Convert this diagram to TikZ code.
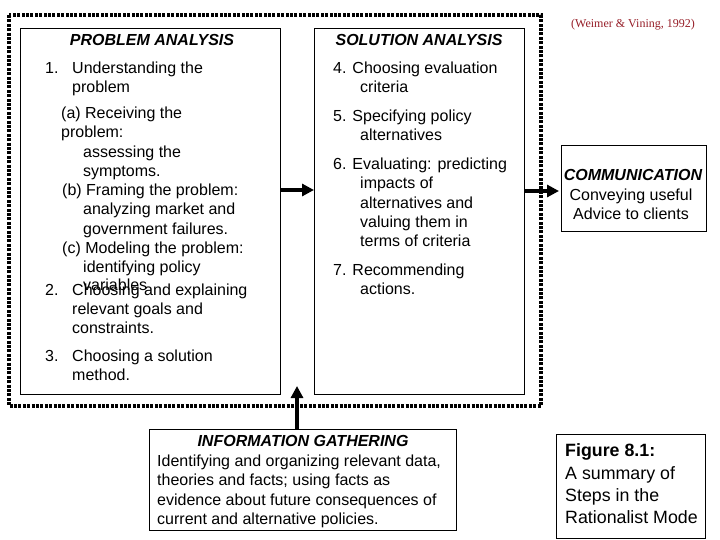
\documentclass[tikz,border=0pt]{standalone}
\usepackage{fontspec}
\setmainfont{Liberation Sans}
\newfontfamily\timesfont{Liberation Serif}
\usetikzlibrary{arrows.meta}
\definecolor{citered}{RGB}{150,30,40}
\begin{document}
\begin{tikzpicture}[x=1pt,y=-1pt,
  box/.style={draw, line width=1pt, inner sep=0, anchor=north west},
  txt/.style={inner sep=0, anchor=west, text height=11pt, text depth=0pt, font=\fontsize{16}{19}\selectfont},
  head/.style={inner sep=0, text height=11pt, text depth=0pt, font=\fontsize{16}{19}\selectfont\bfseries\itshape},
  figtxt/.style={inner sep=0, anchor=west, text height=12.5pt, text depth=0pt, font=\fontsize{17.8}{22}\selectfont},
  frame/.style={line width=3.8pt, dash pattern=on 3pt off 1.4pt},
  bigarrow/.style={line width=4pt, -{Triangle[length=12pt,width=12pt]}}]
\useasboundingbox (0,0) rectangle (720,540);
% boxes
\node[box, minimum width=260pt, minimum height=366pt] (prob) at (20,28) {};
\node[box, minimum width=210pt, minimum height=366pt] (sol) at (314,28) {};
\node[box, minimum width=145pt, minimum height=86pt] (comm) at (561,145) {};
\node[box, minimum width=307pt, minimum height=101pt] (info) at (149,429) {};
\node[box, minimum width=149pt, minimum height=104pt] (fig) at (556,434) {};
% dotted frame
\draw[frame] (9,15) rectangle (541,406);
% arrows
\coordinate (uptip) at (297,386);
\draw[bigarrow] (prob.east |- 0,190) -- (sol.west |- 0,190);
\draw[bigarrow, shorten >=2pt] (sol.east |- 0,191) -- (comm.west |- 0,191);
\draw[bigarrow] (info.north -| uptip) -- (uptip);
% citation
\node[inner sep=0, font=\timesfont\fontsize{12}{14}\selectfont, text=citered] (cite) at (633,25) {(Weimer \& Vining, 1992)};
% problem analysis
\node[head] (pa) at (152,40) {PROBLEM ANALYSIS};
\node[txt] (n1) at (45,68) {1.};
\node[txt] (t1a) at (72,68) {Understanding the};
\node[txt] (t1b) at (72,87) {problem};
\node[txt] (ta1) at (61,113) {(a) Receiving the};
\node[txt] (ta2) at (61,132) {problem:};
\node[txt] (ta3) at (83,152) {assessing the};
\node[txt] (ta4) at (83,171) {symptoms.};
\node[txt] (tb1) at (62,190) {(b) Framing the problem:};
\node[txt] (tb2) at (83,209) {analyzing market and};
\node[txt] (tb3) at (83,229) {government failures.};
\node[txt] (tc1) at (62,248) {(c) Modeling the problem:};
\node[txt] (tc2) at (83,267) {identifying policy};
\node[txt] (tc3) at (83,285) {variables};
\node[txt] (n2) at (45,290) {2.};
\node[txt] (t2a) at (72,290) {Choosing and explaining};
\node[txt] (t2b) at (72,309) {relevant goals and};
\node[txt] (t2c) at (72,328) {constraints.};
\node[txt] (n3) at (45,356) {3.};
\node[txt] (t3a) at (72,356) {Choosing a solution};
\node[txt] (t3b) at (72,375) {method.};
% solution analysis
\node[head] (sa) at (419,40) {SOLUTION ANALYSIS};
\node[txt] (t4a) at (333,68) {4. Choosing evaluation};
\node[txt] (t4b) at (360,87) {criteria};
\node[txt] (t5a) at (333,116) {5. Specifying policy};
\node[txt] (t5b) at (360,135) {alternatives};
\node[txt] (t6a) at (333,164) {6. Evaluating: predicting};
\node[txt] (t6b) at (360,183) {impacts of};
\node[txt] (t6c) at (360,203) {alternatives and};
\node[txt] (t6d) at (360,222) {valuing them in};
\node[txt] (t6e) at (360,241) {terms of criteria};
\node[txt] (t7a) at (333,270) {7. Recommending};
\node[txt] (t7b) at (360,289) {actions.};
% communication
\node[head] (ch) at (633,175) {COMMUNICATION};
\node[txt, anchor=center] (c1) at (631,195) {Conveying useful};
\node[txt, anchor=center] (c2) at (631,214) {Advice to clients};
% information gathering
\node[head] (ih) at (303,441) {INFORMATION GATHERING};
\node[txt] (i1) at (157,461) {Identifying and organizing relevant data,};
\node[txt] (i2) at (157,480) {theories and facts; using facts as};
\node[txt] (i3) at (157,500) {evidence about future consequences of};
\node[txt] (i4) at (157,519) {current and alternative policies.};
% figure caption
\node[figtxt, font=\fontsize{17.8}{22}\selectfont\bfseries] (f1) at (565,450) {Figure 8.1:};
\node[figtxt] (f2) at (565,473) {A summary of};
\node[figtxt] (f3) at (565,495) {Steps in the};
\node[figtxt] (f4) at (565,517) {Rationalist Mode};
\end{tikzpicture}
\end{document}
